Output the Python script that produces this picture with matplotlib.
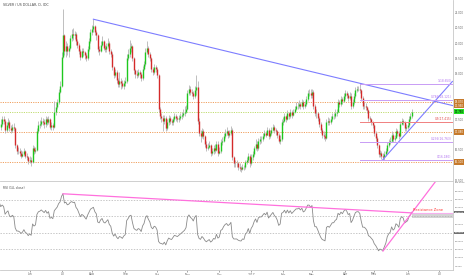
import numpy as np
import pandas as pd
import matplotlib
matplotlib.use('Agg')
from matplotlib import pyplot as plt
from matplotlib import transforms


# daily candles, weekdays from 4 May 2016 to 6 Jun 2017 (one row per week)
closes = [
    17.35, 17.50, 17.45,
    17.15, 17.30, 17.40, 17.20, 17.15,
    17.25, 17.20, 16.65, 16.45, 16.45,
    16.40, 16.30, 16.35, 16.45, 16.30,
    16.25, 16.12, 16.18, 16.10, 16.55,
    16.45, 16.50, 17.10, 17.30, 17.35,
    17.45, 17.40, 17.35, 17.50, 17.40,
    17.50, 17.25, 17.30, 17.25, 17.75,
    17.90, 18.05, 18.40, 18.60, 19.55,
    20.25, 19.75, 19.90, 19.75, 19.85,
    20.15, 20.30, 20.25, 20.30, 20.05,
    19.95, 19.75, 19.55, 19.75, 19.70,
    19.60, 19.50, 19.80, 20.05, 20.35,
    20.45, 20.55, 20.35, 20.25, 19.80,
    19.75, 19.95, 20.05, 19.85, 19.80,
    19.90, 20.00, 19.75, 19.65, 19.20,
    18.95, 19.05, 18.80, 18.65, 18.75,
    18.70, 18.60, 18.70, 18.75, 19.50,
    19.65, 19.85, 19.90, 19.50, 19.10,
    19.00, 18.95, 19.05, 19.00, 18.85,
    19.15, 19.30, 19.70, 19.85, 19.65,
    19.50, 19.15, 19.05, 19.20, 19.15,
    18.95, 17.85, 17.60, 17.55, 17.45,
    17.55, 17.20, 17.40, 17.55, 17.45,
    17.40, 17.50, 17.60, 17.55, 17.50,
    17.55, 17.60, 17.65, 17.70, 17.75,
    17.85, 18.35, 18.50, 18.40, 18.35,
    18.25, 18.45, 18.55, 17.45, 17.05,
    16.95, 17.10, 16.95, 16.70, 16.55,
    16.60, 16.65, 16.40, 16.45, 16.55,
    16.50, 16.70, 16.40, 16.45, 16.75,
    16.80, 16.95, 17.05, 17.10, 17.00,
    17.05, 17.15, 16.25, 16.05, 16.05,
    16.05, 15.95, 15.90, 15.88, 15.95,
    15.92, 16.10, 16.15, 16.30, 16.05,
    16.25, 16.35, 16.55, 16.70, 16.55,
    16.80, 16.85, 16.85, 16.95, 17.05,
    17.00, 17.15, 16.95, 17.05, 17.15,
    17.25, 17.15, 17.10, 17.00, 16.80,
    16.85, 17.40, 17.45, 17.60, 17.50,
    17.70, 17.60, 17.75, 17.65, 17.75,
    17.85, 17.95, 17.95, 18.00, 17.95,
    18.05, 17.95, 18.00, 18.15, 18.35,
    18.35, 18.30, 18.40, 17.95, 17.70,
    17.70, 17.55, 17.35, 17.15, 17.00,
    16.95, 16.90, 17.40, 17.45, 17.40,
    17.50, 17.60, 17.60, 17.70, 17.75,
    18.05, 18.00, 18.15, 18.10, 18.25,
    18.35, 18.30, 18.20, 18.25, 17.95,
    18.05, 18.25, 18.45, 18.50, 18.50,
    18.45, 18.20, 17.95, 17.95, 17.90,
    17.80, 17.55, 17.50, 17.40, 17.30,
    17.05, 16.90, 16.65, 16.35, 16.40,
    16.30, 16.25, 16.35, 16.45, 16.65,
    16.75, 16.80, 17.00, 16.85, 16.90,
    17.10, 17.05, 16.95, 17.35, 17.45,
    17.40, 17.20, 17.25, 17.30, 17.50,
    17.60, 17.75,
]
highs = [
    17.50, 17.60, 17.62,
    17.50, 17.40, 17.55, 17.48, 17.30,
    17.35, 17.38, 17.25, 16.70, 16.58,
    16.55, 16.48, 16.45, 16.55, 16.50,
    16.38, 16.30, 16.28, 16.25, 16.65,
    16.62, 16.60, 17.20, 17.45, 17.48,
    17.58, 17.55, 17.50, 17.62, 17.58,
    17.60, 17.55, 17.40, 17.38, 18.10,
    18.05, 18.15, 18.50, 18.75, 19.70,
    21.10, 20.30, 20.05, 20.00, 19.95,
    20.25, 20.45, 20.50, 20.40, 20.35,
    20.12, 20.00, 19.80, 19.85, 19.82,
    19.75, 19.68, 19.90, 20.15, 20.45,
    20.60, 20.80, 20.60, 20.42, 20.30,
    19.90, 20.05, 20.22, 20.10, 19.95,
    20.00, 20.15, 20.05, 19.80, 19.70,
    19.25, 19.15, 19.10, 18.85, 19.05,
    18.85, 18.78, 18.80, 18.88, 19.65,
    19.80, 20.10, 20.00, 19.95, 19.55,
    19.15, 19.10, 19.15, 19.12, 19.05,
    19.25, 19.40, 19.85, 20.05, 19.90,
    19.70, 19.55, 19.20, 19.30, 19.28,
    19.20, 18.98, 17.90, 17.70, 17.65,
    17.65, 17.60, 17.50, 17.65, 17.62,
    17.52, 17.58, 17.72, 17.68, 17.62,
    17.65, 17.70, 17.75, 17.82, 17.95,
    17.98, 18.45, 18.62, 18.58, 18.50,
    18.42, 18.58, 18.95, 18.75, 17.55,
    17.15, 17.20, 17.18, 17.00, 16.78,
    16.72, 16.78, 16.68, 16.55, 16.65,
    16.68, 16.80, 16.78, 16.60, 16.85,
    16.92, 17.05, 17.18, 17.25, 17.15,
    17.15, 17.28, 17.20, 16.30, 16.15,
    16.18, 16.10, 16.05, 15.98, 16.02,
    16.00, 16.18, 16.25, 16.40, 16.35,
    16.35, 16.45, 16.62, 16.85, 16.78,
    16.88, 16.95, 16.95, 17.05, 17.15,
    17.10, 17.25, 17.20, 17.15, 17.25,
    17.35, 17.30, 17.22, 17.15, 17.05,
    16.98, 17.50, 17.58, 17.72, 17.65,
    17.80, 17.75, 17.85, 17.80, 17.85,
    17.95, 18.05, 18.08, 18.12, 18.08,
    18.15, 18.12, 18.10, 18.25, 18.45,
    18.50, 18.48, 18.50, 18.45, 18.00,
    17.82, 17.75, 17.60, 17.40, 17.20,
    17.10, 17.05, 17.50, 17.58, 17.55,
    17.60, 17.70, 17.72, 17.82, 17.85,
    18.15, 18.12, 18.25, 18.22, 18.35,
    18.45, 18.42, 18.35, 18.38, 18.35,
    18.15, 18.35, 18.55, 18.60, 18.58,
    18.65, 18.50, 18.25, 18.08, 18.02,
    17.95, 17.85, 17.62, 17.55, 17.45,
    17.35, 17.10, 16.95, 16.70, 16.50,
    16.45, 16.38, 16.45, 16.55, 16.75,
    16.85, 16.92, 17.10, 17.05, 17.00,
    17.20, 17.18, 17.12, 17.45, 17.55,
    17.52, 17.45, 17.35, 17.40, 17.60,
    17.70, 17.82,
]
lows = [
    17.15, 17.28, 17.35,
    17.05, 17.08, 17.25, 17.12, 17.05,
    17.08, 17.10, 16.55, 16.35, 16.35,
    16.30, 16.22, 16.25, 16.30, 16.22,
    16.15, 16.02, 16.05, 15.98, 16.05,
    16.35, 16.38, 16.45, 17.05, 17.20,
    17.28, 17.30, 17.22, 17.25, 17.30,
    17.35, 17.18, 17.15, 17.15, 17.20,
    17.65, 17.85, 18.00, 18.35, 18.55,
    19.50, 19.60, 19.55, 19.62, 19.55,
    19.80, 20.05, 20.10, 20.12, 19.95,
    19.85, 19.65, 19.45, 19.50, 19.58,
    19.48, 19.40, 19.45, 19.75, 20.00,
    20.25, 20.35, 20.25, 20.10, 19.70,
    19.62, 19.70, 19.90, 19.78, 19.70,
    19.72, 19.85, 19.65, 19.55, 19.10,
    18.85, 18.90, 18.70, 18.55, 18.55,
    18.50, 18.52, 18.50, 18.60, 18.70,
    19.45, 19.55, 19.70, 19.40, 19.00,
    18.85, 18.85, 18.90, 18.85, 18.75,
    18.80, 19.10, 19.25, 19.65, 19.55,
    19.40, 19.05, 18.95, 18.98, 19.05,
    18.85, 17.75, 17.50, 17.40, 17.10,
    17.35, 17.10, 17.15, 17.30, 17.35,
    17.30, 17.32, 17.45, 17.45, 17.40,
    17.42, 17.48, 17.52, 17.58, 17.62,
    17.70, 17.80, 18.30, 18.30, 18.25,
    18.15, 18.20, 18.30, 17.35, 16.95,
    16.75, 16.90, 16.85, 16.60, 16.45,
    16.48, 16.55, 16.30, 16.32, 16.35,
    16.40, 16.45, 16.30, 16.35, 16.40,
    16.65, 16.75, 16.90, 17.00, 16.90,
    16.92, 17.00, 16.15, 15.95, 15.92,
    15.95, 15.85, 15.80, 15.78, 15.85,
    15.82, 15.88, 16.02, 16.10, 15.95,
    16.00, 16.15, 16.30, 16.50, 16.45,
    16.50, 16.70, 16.72, 16.80, 16.90,
    16.92, 16.98, 16.85, 16.90, 17.00,
    17.10, 17.05, 17.00, 16.90, 16.72,
    16.70, 16.80, 17.30, 17.40, 17.40,
    17.48, 17.50, 17.55, 17.55, 17.60,
    17.70, 17.80, 17.85, 17.88, 17.85,
    17.90, 17.85, 17.88, 17.95, 18.10,
    18.25, 18.20, 18.20, 17.85, 17.60,
    17.55, 17.45, 17.25, 17.05, 16.90,
    16.85, 16.80, 16.85, 17.30, 17.30,
    17.35, 17.45, 17.50, 17.55, 17.62,
    17.75, 17.90, 17.95, 18.00, 18.05,
    18.15, 18.20, 18.10, 18.12, 17.85,
    17.88, 18.00, 18.20, 18.38, 18.42,
    18.35, 18.10, 17.85, 17.85, 17.80,
    17.70, 17.45, 17.40, 17.30, 17.20,
    16.95, 16.80, 16.55, 16.25, 16.25,
    16.20, 16.15, 16.18, 16.30, 16.40,
    16.60, 16.68, 16.75, 16.75, 16.80,
    16.88, 16.95, 16.85, 16.92, 17.30,
    17.30, 17.10, 17.12, 17.18, 17.25,
    17.45, 17.55,
]
first_open = 17.25
# April 2016 closes, only used to seed the RSI
warmup_closes = [15.00, 15.05, 15.10, 15.20, 15.30, 15.65, 16.00, 16.20, 16.20, 16.25, 16.40,
                 17.00, 17.25, 17.05, 16.95, 16.90, 17.15, 17.30, 17.65, 17.85, 17.65, 17.50]

start_day = '2016-05-04'
end_day = '2017-07-14'
month_labels = ['Jun', 'Jul', 'Aug', 'Sep', 'Oct', 'Nov', 'Dec', '2017', 'Feb', 'Mar', 'Apr', 'May', 'Jun', 'Jul']

price_ticks = [15.5, 16.5, 17.5, 19.0, 19.5, 20.0, 20.5, 21.0]
rsi_ticks = [0, 10, 20, 30, 50, 70, 80, 90, 100]
rsi_bands = [80, 60, 40, 20]

sr_levels = [18.07, 17.08, 16.10]
axis_badges = [18.07, 17.95, 17.08, 16.10]
fib_high, fib_low = 18.65, 16.18
fib_start = '2017-04-17'
fib_levels = [1, 0.786, 0.5, 0.236, 0]

down_trend = [('2016-08-02', 20.78), ('2017-07-14', 17.95)]
up_trend = [('2017-05-09', 16.18), ('2017-07-14', 18.74)]
rsi_down = [('2016-07-04', 87), ('2017-06-06', 64)]
rsi_up = [('2017-05-09', 18), ('2017-06-28', 101)]
zone = (58, 64)


days = pd.bdate_range(start_day, end_day)
def idx(day):
    return days.get_loc(pd.Timestamp(day))

n = len(closes)
assert len(highs) == n and len(lows) == n
x = np.arange(n)
c = np.array(closes)
o = np.array([first_open] + closes[:-1])
h = np.maximum(np.array(highs), np.maximum(o, c))
l = np.minimum(np.array(lows), np.minimum(o, c))
up = c >= o

# RSI 14 with Wilder smoothing
s = pd.Series(warmup_closes + closes)
d = s.diff()
gain = d.clip(lower=0).ewm(alpha=1/14, adjust=False).mean()
loss = (-d.clip(upper=0)).ewm(alpha=1/14, adjust=False).mean()
rsi = (100 - 100 / (1 + gain / loss)).values
rsi_x = np.arange(len(s)) - len(warmup_closes)

grey = '#c8c8c8'
txt = '#666666'

fig = plt.figure(figsize=(4.66, 2.75), dpi=100)
ax = fig.add_axes([0, 94/275, 453/466, 181/275])
ax2 = fig.add_axes([0, 5/275, 453/466, 88/275])

xmax = idx(end_day) + 0.4
for a in (ax, ax2):
    a.set_xlim(-0.5, xmax)
    for sp in ('top', 'left'):
        a.spines[sp].set_visible(False)
    for sp in ('right', 'bottom'):
        a.spines[sp].set_color(grey)
        a.spines[sp].set_linewidth(0.6)
    a.yaxis.tick_right()
    a.tick_params(axis='y', length=0, pad=1.0, colors=txt)

ax.set_ylim(21.41 - 181/30.5, 21.41)
ax.set_xticks([])
ax.set_yticks(price_ticks)
ax.set_yticklabels([f'{v:.3f}' for v in price_ticks])
ax.tick_params(axis='y', labelsize=1.9)

# support / resistance and price line
for v in sr_levels:
    ax.axhline(v, color='#f0a060', lw=0.7, ls=(0, (1.2, 1.2)))
ax.axhline(closes[-1], color='#c0dc70', lw=0.7, ls=(0, (1.2, 1.2)))

# candles
ax.vlines(x, l, h, color='#b4b4b4', lw=0.6)
ax.vlines(x[up], o[up], c[up], color='#1ec81e', lw=1.0)
ax.vlines(x[~up], c[~up], o[~up], color='#d42a2a', lw=1.0)

# trend lines
ax.plot([idx(d0) for d0, _ in down_trend], [v for _, v in down_trend], color='#7d7dff', lw=0.8)
ax.plot([idx(d0) for d0, _ in up_trend], [v for _, v in up_trend], color='#7d7dff', lw=0.8)

# fibonacci levels
fx0 = idx(fib_start)
for lev in fib_levels:
    val = fib_low + lev * (fib_high - fib_low)
    col = '#f08080' if lev == 0.5 else '#c89cf5'
    tcol = '#e04040' if lev == 0.5 else '#b070f0'
    ax.plot([fx0, xmax], [val, val], color=col, lw=0.7)
    ax.text(xmax - 1, val + 0.03, f'{lev:g}({val:.3f})', color=tcol, fontsize=2.1,
            ha='right', va='bottom')

# price badges on the axis
btr = transforms.blended_transform_factory(ax.transAxes, ax.transData)
for v in axis_badges:
    ax.text(1.004, v, f'{v:.3f}', transform=btr, fontsize=1.9, color='white', va='center',
            ha='left', clip_on=False,
            bbox=dict(boxstyle='square,pad=0.25', fc='#c67a2c', ec='none'))
ax.text(1.004, closes[-1], f'{closes[-1]:.3f}', transform=btr, fontsize=1.9, color='black',
        va='center', ha='left', clip_on=False,
        bbox=dict(boxstyle='square,pad=0.25', fc='#22e022', ec='none'))

ax.text(0.006, 0.985, 'SILVER / US DOLLAR, D, IDC', transform=ax.transAxes, fontsize=2.3,
        color='#444444', va='top', ha='left')

# RSI pane
ax2.set_ylim(-4.8, 101.2)
ax2.set_yticks(rsi_ticks)
ax2.set_yticklabels([f'{v:.4f}' for v in rsi_ticks])
ax2.tick_params(axis='y', labelsize=1.6)
for v in rsi_bands:
    ax2.axhline(v, color='#b0b0b0', lw=0.5, ls=(0, (2, 2)))
ax2.axhspan(zone[0], zone[1], xmin=(len(closes) - 0.5) / (xmax + 0.5), color='#d4d4d4', lw=0)
ax2.plot(rsi_x, rsi, color='#8a8a8a', lw=0.6)
ax2.plot([idx(d0) for d0, _ in rsi_down], [v for _, v in rsi_down], color='#ff70dd', lw=0.9)
ax2.plot([idx(rsi_down[-1][0]), xmax], [zone[1], zone[1]], color='#f6b0ee', lw=0.8)
ax2.plot([idx(d0) for d0, _ in rsi_up], [v for _, v in rsi_up], color='#ff70dd', lw=0.9)
ax2.text(len(closes) - 0.5, zone[1] + 1, 'Resistance Zone', color='#ff3030', fontsize=2.6,
         va='bottom', ha='left')
ax2.text(0.006, 0.95, 'RSI (14, close)', transform=ax2.transAxes, fontsize=2.2,
         color='#444444', va='top', ha='left')

btr2 = transforms.blended_transform_factory(ax2.transAxes, ax2.transData)
for v in (rsi[-1], 40):
    ax2.text(1.004, v, f'{v:.4f}', transform=btr2, fontsize=1.6, color='white', va='center',
             ha='left', clip_on=False,
             bbox=dict(boxstyle='square,pad=0.25', fc='#707070', ec='none'))

month_pos = [i for i in range(1, len(days)) if days[i].month != days[i - 1].month]
ax2.set_xticks(month_pos)
ax2.set_xticklabels(month_labels[:len(month_pos)])
ax2.tick_params(axis='x', labelsize=2.2, length=1.2, width=0.4, pad=0.6, colors=txt)

fig.savefig('out.png', dpi=100)
